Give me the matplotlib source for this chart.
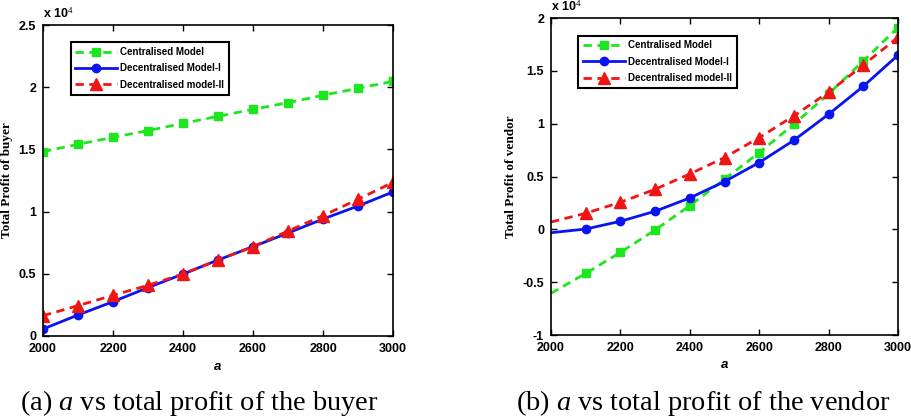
import matplotlib
matplotlib.use("Agg")
import matplotlib.pyplot as plt

# demand parameter a
a_vals = [2000, 2100, 2200, 2300, 2400, 2500, 2600, 2700, 2800, 2900, 3000]

# total profit of buyer (x 10^4)
buyer_central = [1.482, 1.541, 1.597, 1.651, 1.709, 1.766, 1.822, 1.876, 1.935, 1.991, 2.047]
buyer_dec1 = [0.056, 0.169, 0.276, 0.389, 0.498, 0.611, 0.718, 0.828, 0.940, 1.045, 1.158]
buyer_dec2 = [0.163, 0.244, 0.327, 0.407, 0.498, 0.611, 0.718, 0.844, 0.967, 1.099, 1.235]

# total profit of vendor (x 10^4)
vendor_central = [-0.606, -0.417, -0.218, -0.006, 0.224, 0.474, 0.726, 0.995, 1.282, 1.594, 1.91]
vendor_dec1 = [-0.032, 0.003, 0.076, 0.171, 0.297, 0.452, 0.632, 0.843, 1.089, 1.354, 1.648]
vendor_dec2 = [0.069, 0.152, 0.256, 0.379, 0.524, 0.679, 0.868, 1.074, 1.298, 1.554, 1.817]

labels = ["Centralised Model", "Decentralised Model-I", "Decentralised model-II"]
x_ticks = [2000, 2200, 2400, 2600, 2800, 3000]

plt.rcParams["mathtext.fontset"] = "custom"
plt.rcParams["mathtext.it"] = "Liberation Serif:italic"
plt.rcParams["mathtext.rm"] = "Liberation Serif"

fig = plt.figure(figsize=(9.11, 4.2), dpi=100)
ax1 = fig.add_axes([43 / 911, 84 / 420, 350 / 911, 311 / 420])
ax2 = fig.add_axes([551 / 911, 85 / 420, 347 / 911, 317 / 420])

green = "#1ee61e"
blue = "#0a14f0"
red = "#f01414"


def draw(ax, c, d1, d2, ylim, yticks, ylabel, mk):
    ax.plot(a_vals, c, color=green, ls=(0, (3, 2)), lw=2, marker="s", ms=6,
            markevery=mk, label=labels[0])
    ax.plot(a_vals, d1, color=blue, ls="-", lw=2, marker="o", ms=6,
            markevery=mk, label=labels[1])
    ax.plot(a_vals, d2, color=red, ls=(0, (3, 2)), lw=2, marker="^", ms=8,
            markevery=mk, label=labels[2])
    ax.set_xlim(2000, 3000)
    ax.set_ylim(*ylim)
    ax.set_xticks(x_ticks)
    ax.set_yticks(yticks)
    ax.set_yticklabels([("%g" % t) for t in yticks])
    ax.tick_params(direction="in", top=True, right=True, length=4, width=1,
                   labelsize=9, pad=5)
    for lab in ax.get_xticklabels() + ax.get_yticklabels():
        lab.set_fontweight("bold")
        lab.set_family("Liberation Sans")
    for s in ax.spines.values():
        s.set_linewidth(1.2)
    ax.set_xlabel("a", fontsize=9.5, fontstyle="italic", fontweight="bold",
                  family="Liberation Sans", labelpad=4)
    ax.set_ylabel(ylabel, fontsize=9.5, fontweight="bold",
                  family="Liberation Serif", labelpad=4)
    ax.text(0.0, 1.015, r"x 10$^{4}$", transform=ax.transAxes, fontsize=9,
            fontweight="bold", family="Liberation Sans", va="bottom", ha="left")
    leg = ax.legend(loc="upper left", bbox_to_anchor=(0.065, 0.96), fancybox=False,
                    edgecolor="black", framealpha=1, handlelength=4.3,
                    handletextpad=0.3, borderpad=0.5, labelspacing=0.65,
                    prop={"family": "Liberation Sans", "weight": "bold", "size": 7})
    leg.get_frame().set_linewidth(1.5)


draw(ax1, buyer_central, buyer_dec1, buyer_dec2, (0, 2.5),
     [0, 0.5, 1, 1.5, 2, 2.5], "Total Profit of buyer", None)
draw(ax2, vendor_central, vendor_dec1, vendor_dec2, (-1, 2),
     [-1, -0.5, 0, 0.5, 1, 1.5, 2], "Total Profit of vendor", slice(1, None))

fig.text(20 / 911, 1 - 410 / 420, r"(a) $a$ vs total profit of the buyer",
         fontsize=20.4, family="Liberation Serif", va="baseline", ha="left")
fig.text(516 / 911, 1 - 410 / 420, r"(b) $a$ vs total profit of the vendor",
         fontsize=20.4, family="Liberation Serif", va="baseline", ha="left")

fig.savefig("out.png", dpi=100)
